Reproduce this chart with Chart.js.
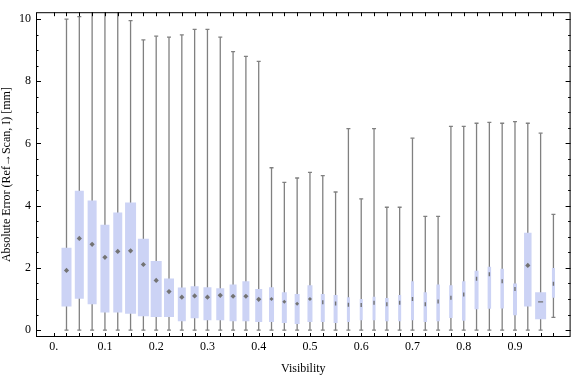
<!DOCTYPE html>
<html>
<head>
<meta charset="utf-8">
<script src="https://cdn.jsdelivr.net/npm/chart.js@4.4.1/dist/chart.umd.min.js"></script>
<style>
  html, body { margin: 0; padding: 0; background: #fff; }
</style>
</head>
<body>
<canvas id="chart" width="576" height="377"></canvas>
<script>
// box positions on the visibility axis
const visibility = [
  0.025, 0.05, 0.075, 0.1, 0.125, 0.15, 0.175, 0.2, 0.225, 0.25,
  0.275, 0.3, 0.325, 0.35, 0.375, 0.4, 0.425, 0.45, 0.475, 0.5,
  0.525, 0.55, 0.575, 0.6, 0.625, 0.65, 0.675, 0.7, 0.725, 0.75,
  0.775, 0.8, 0.825, 0.85, 0.875, 0.9, 0.925, 0.95, 0.975,
];

// whisker ends, quartiles and medians (mm)
const whiskerHigh = [
  10.0, 10.08, 10.3, 10.6, 10.6, 9.95, 9.33, 9.45, 9.42, 9.49,
  9.67, 9.67, 9.42, 8.95, 8.80, 8.64, 5.22, 4.75, 4.89, 5.07,
  4.97, 4.44, 6.48, 4.22, 6.48, 3.95, 3.95, 6.17, 3.66, 3.66,
  6.55, 6.55, 6.65, 6.68, 6.65, 6.70, 6.65, 6.33, 3.72,
];
const whiskerLow = [
  0, 0, 0, 0, 0, 0, 0, 0, 0, 0,
  0, 0, 0, 0, 0, 0, 0, 0, 0, 0,
  0, 0, 0, 0, 0, 0, 0, 0, 0, 0,
  0, 0, 0, 0, 0, 0, 0, 0, 0.41,
];
const upperQuartile = [
  2.65, 4.48, 4.17, 3.39, 3.78, 4.10, 2.94, 2.22, 1.66, 1.37,
  1.41, 1.38, 1.35, 1.47, 1.57, 1.32, 1.38, 1.22, 1.16, 1.44,
  1.16, 1.13, 1.06, 1.00, 1.07, 1.03, 1.13, 1.57, 1.22, 1.47,
  1.44, 1.57, 1.91, 2.04, 1.97, 1.50, 3.13, 1.22, 2.00,
];
const lowerQuartile = [
  0.76, 1.01, 0.83, 0.57, 0.57, 0.53, 0.45, 0.42, 0.42, 0.29,
  0.38, 0.32, 0.32, 0.29, 0.29, 0.26, 0.26, 0.23, 0.20, 0.26,
  0.26, 0.23, 0.26, 0.32, 0.32, 0.29, 0.29, 0.32, 0.26, 0.29,
  0.39, 0.30, 0.67, 0.69, 0.70, 0.48, 0.76, 0.35, 1.04,
];
const median = [
  1.92, 2.95, 2.76, 2.34, 2.53, 2.55, 2.11, 1.60, 1.24, 1.06,
  1.10, 1.06, 1.12, 1.09, 1.09, 0.99, 1.00, 0.91, 0.85, 1.00,
  0.90, 0.86, 0.82, 0.81, 0.88, 0.83, 0.88, 1.00, 0.83, 0.92,
  1.04, 1.15, 1.65, 1.80, 1.57, 1.32, 2.08, 0.91, 1.49,
];

const xTickValues = [0, 0.1, 0.2, 0.3, 0.4, 0.5, 0.6, 0.7, 0.8, 0.9];
const xTickLabels = ['0.', '0.1', '0.2', '0.3', '0.4', '0.5', '0.6', '0.7', '0.8', '0.9'];
const yTickValues = [0, 2, 4, 6, 8, 10];
const yTickLabels = ['0', '2', '4', '6', '8', '10'];

// styling
const BOX_PX = [
  10, 9, 9, 9, 9, 11, 11, 11, 10, 8,
  8, 8, 8, 7, 7, 7, 5, 5, 5, 5,
  4, 4, 3, 3, 3, 3.5, 3, 3, 3.5, 3.5,
  3.5, 3.5, 4, 3.5, 3.5, 4, 7.5, 11, 3,
];
const BOX_COLOR = 'rgb(204, 211, 245)';
const WHISKER_COLOR = '#808080';
const MEDIAN_COLOR = '#737373';
const FONT = '"Liberation Serif", "Times New Roman", serif';

function markKind(i) {
  if (i === 37) return 'h';
  return BOX_PX[i] >= 5 ? 'd' : 'v';
}

// one bar dataset per box width, since bar thickness is set per dataset
const widths = [...new Set(BOX_PX)];
const boxSets = widths.map(w => ({
  type: 'bar',
  order: 2,
  grouped: false,
  barThickness: w,
  backgroundColor: BOX_COLOR,
  borderWidth: 0,
  inflateAmount: 0,
  data: visibility
    .map((v, i) => ({ x: v, y: [lowerQuartile[i], upperQuartile[i]], w: BOX_PX[i] }))
    .filter(p => p.w === w),
}));

const whiskerSet = {
  type: 'bar',
  order: 4,
  grouped: false,
  barThickness: 1.3,
  backgroundColor: WHISKER_COLOR,
  borderWidth: 0,
  inflateAmount: 0,
  data: visibility.map((v, i) => ({ x: v, y: [whiskerLow[i], whiskerHigh[i]] })),
};

const capSet = {
  type: 'scatter',
  order: 3,
  pointStyle: 'line',
  pointRadius: 2,
  borderColor: WHISKER_COLOR,
  borderWidth: 1.3,
  data: visibility.flatMap((v, i) => [{ x: v, y: whiskerLow[i] }, { x: v, y: whiskerHigh[i] }]),
};

const medianSet = {
  type: 'scatter',
  order: 1,
  data: visibility.map((v, i) => ({ x: v, y: median[i] })),
  pointStyle: ctx => (markKind(ctx.dataIndex) === 'd' ? 'rectRot' : 'line'),
  rotation: ctx => (markKind(ctx.dataIndex) === 'v' ? 90 : 0),
  pointRadius: ctx => {
    const k = markKind(ctx.dataIndex);
    if (k === 'd') return BOX_PX[ctx.dataIndex] >= 7 ? 2.6 : 2;
    return k === 'h' ? 2.5 : 2;
  },
  backgroundColor: MEDIAN_COLOR,
  borderColor: MEDIAN_COLOR,
  borderWidth: ctx => (markKind(ctx.dataIndex) === 'd' ? 0 : 1.4),
};

// frame with inward ticks on all four sides, Mathematica style
const framePlugin = {
  id: 'frame',
  afterDatasetsDraw(chart) {
    const { ctx, chartArea: a, scales: { x, y } } = chart;
    ctx.save();
    ctx.strokeStyle = '#000';
    ctx.lineWidth = 1;
    ctx.beginPath();
    [0, ...visibility].forEach(v => {
      const px = Math.round(x.getPixelForValue(v)) + 0.5;
      ctx.moveTo(px, a.bottom);
      ctx.lineTo(px, a.bottom - 4);
      ctx.moveTo(px, a.top);
      ctx.lineTo(px, a.top + 4);
    });
    for (let t = 0; t <= 10; t += 0.5) {
      const py = Math.round(y.getPixelForValue(t)) + 0.5;
      const len = t % 2 === 0 ? 5 : 2.5;
      ctx.moveTo(a.left, py);
      ctx.lineTo(a.left + len, py);
      ctx.moveTo(a.right, py);
      ctx.lineTo(a.right - len, py);
    }
    ctx.stroke();
    ctx.strokeRect(a.left + 0.5, a.top + 0.5, a.right - a.left - 1, a.bottom - a.top - 1);
    ctx.restore();
  },
};

new Chart(document.getElementById('chart'), {
  type: 'bar',
  data: { datasets: [whiskerSet, capSet, ...boxSets, medianSet] },
  options: {
    responsive: false,
    animation: false,
    layout: { padding: { top: 4, right: 1, left: 0, bottom: 0 } },
    plugins: {
      legend: { display: false },
      tooltip: { enabled: false },
    },
    scales: {
      x: {
        type: 'linear',
        offset: false,
        min: -0.0345,
        max: 1.0085,
        afterFit: s => { s.height = 40; },
        afterBuildTicks: s => { s.ticks = xTickValues.map(v => ({ value: v })); },
        ticks: {
          autoSkip: false,
          maxRotation: 0,
          padding: 3,
          color: '#000',
          font: { family: FONT, size: 12 },
          callback: v => xTickLabels[xTickValues.indexOf(v)],
        },
        grid: { display: false, drawTicks: false },
        border: { display: false },
        title: {
          display: true,
          text: 'Visibility',
          color: '#000',
          font: { family: FONT, size: 12 },
          padding: { top: 0, bottom: 1 },
        },
      },
      y: {
        min: -0.22,
        max: 10.22,
        afterFit: s => { s.width = 36; },
        afterBuildTicks: s => { s.ticks = yTickValues.map(v => ({ value: v })); },
        ticks: {
          padding: 5,
          color: '#000',
          font: { family: FONT, size: 12 },
          callback: v => yTickLabels[yTickValues.indexOf(v)],
        },
        grid: { display: false, drawTicks: false },
        border: { display: false },
        title: {
          display: true,
          text: 'Absolute Error (Ref\u2192Scan, I) [mm]',
          color: '#000',
          font: { family: FONT, size: 12 },
          padding: { top: 0, bottom: 0 },
        },
      },
    },
  },
  plugins: [framePlugin],
});
</script>
</body>
</html>
